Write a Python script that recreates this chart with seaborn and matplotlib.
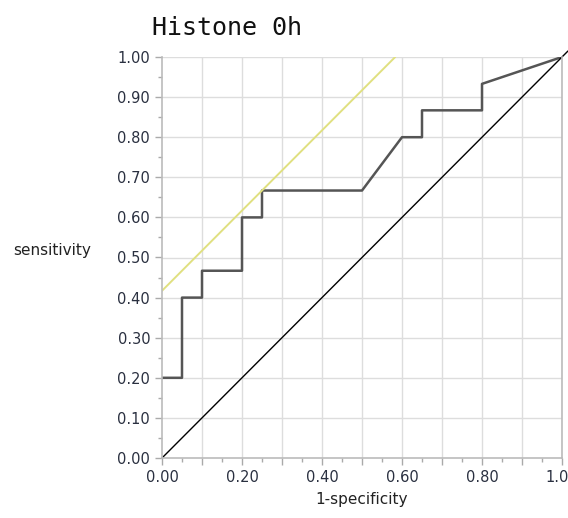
import numpy as np
import pandas as pd
import matplotlib
matplotlib.use("Agg")
import matplotlib.pyplot as plt
import seaborn as sns
from matplotlib.ticker import MultipleLocator, FormatStrFormatter, FuncFormatter

# ROC curve points
fpr = [0.0, 0.05, 0.05, 0.10, 0.10, 0.20, 0.20, 0.25, 0.25, 0.50, 0.60, 0.65, 0.65, 0.80, 0.80, 1.00]
tpr = [0.20, 0.20, 0.40, 0.40, 0.467, 0.467, 0.60, 0.60, 0.667, 0.667, 0.80, 0.80, 0.867, 0.867, 0.933, 1.00]

# reference diagonal and tangent (slope 1) line
diag_x = [0.0, 1.015]
diag_y = [0.0, 1.015]
tan_x = [0.0, 0.583]
tan_y = [0.417, 1.0]

sns.set_style("whitegrid")

fig = plt.figure(figsize=(5.68, 5.18), dpi=100)
ax = fig.add_axes([162 / 568, 60 / 518, 400 / 568, 401 / 518])

roc = pd.DataFrame({"fpr": fpr, "tpr": tpr})
sns.lineplot(data=roc, x="fpr", y="tpr", sort=False, estimator=None,
             color="#555555", linewidth=1.8, ax=ax)
ax.plot(diag_x, diag_y, color="black", linewidth=1.0, clip_on=False)
ax.plot(tan_x, tan_y, color="#e0e080", linewidth=1.4)

ax.set_xlim(0, 1)
ax.set_ylim(0, 1)
# labels only every 0.2 on x, but long ticks every 0.1
ax.xaxis.set_major_locator(MultipleLocator(0.1))
ax.xaxis.set_minor_locator(MultipleLocator(0.05))
ax.yaxis.set_major_locator(MultipleLocator(0.1))
ax.yaxis.set_minor_locator(MultipleLocator(0.05))
ax.xaxis.set_major_formatter(
    FuncFormatter(lambda v, p: f"{v:.2f}" if round(v * 10) % 2 == 0 else ""))
ax.yaxis.set_major_formatter(FormatStrFormatter("%.2f"))

ax.grid(False)
for v in np.arange(0.1, 1.01, 0.1):
    ax.axvline(v, color="#dddddd", linewidth=1.0, zorder=0)
    ax.axhline(v, color="#dddddd", linewidth=1.0, zorder=0)

for side in ["left", "bottom", "right", "top"]:
    ax.spines[side].set_color("#bbbbbb")
    ax.spines[side].set_linewidth(1.2)
ax.spines["top"].set_visible(False)

ax.tick_params(axis="both", which="major", direction="out", length=5, width=1,
               color="#aaaaaa", labelsize=10.5, labelcolor="#2a3040",
               left=True, bottom=True)
ax.tick_params(axis="both", which="minor", direction="out", length=3, width=1,
               color="#aaaaaa", left=True, bottom=True)

ax.set_xlabel("1-specificity", fontsize=11, color="#222222", labelpad=5)
ax.set_ylabel("sensitivity", fontsize=11, color="#222222", rotation=0,
              labelpad=0)
ax.yaxis.set_label_coords(-0.275, 0.5)

fig.text(152 / 568, 1 - 28 / 518, "Histone 0h", fontsize=18,
         family="DejaVu Sans Mono", va="center", ha="left", color="#111111")

fig.savefig("out.png", dpi=100)
